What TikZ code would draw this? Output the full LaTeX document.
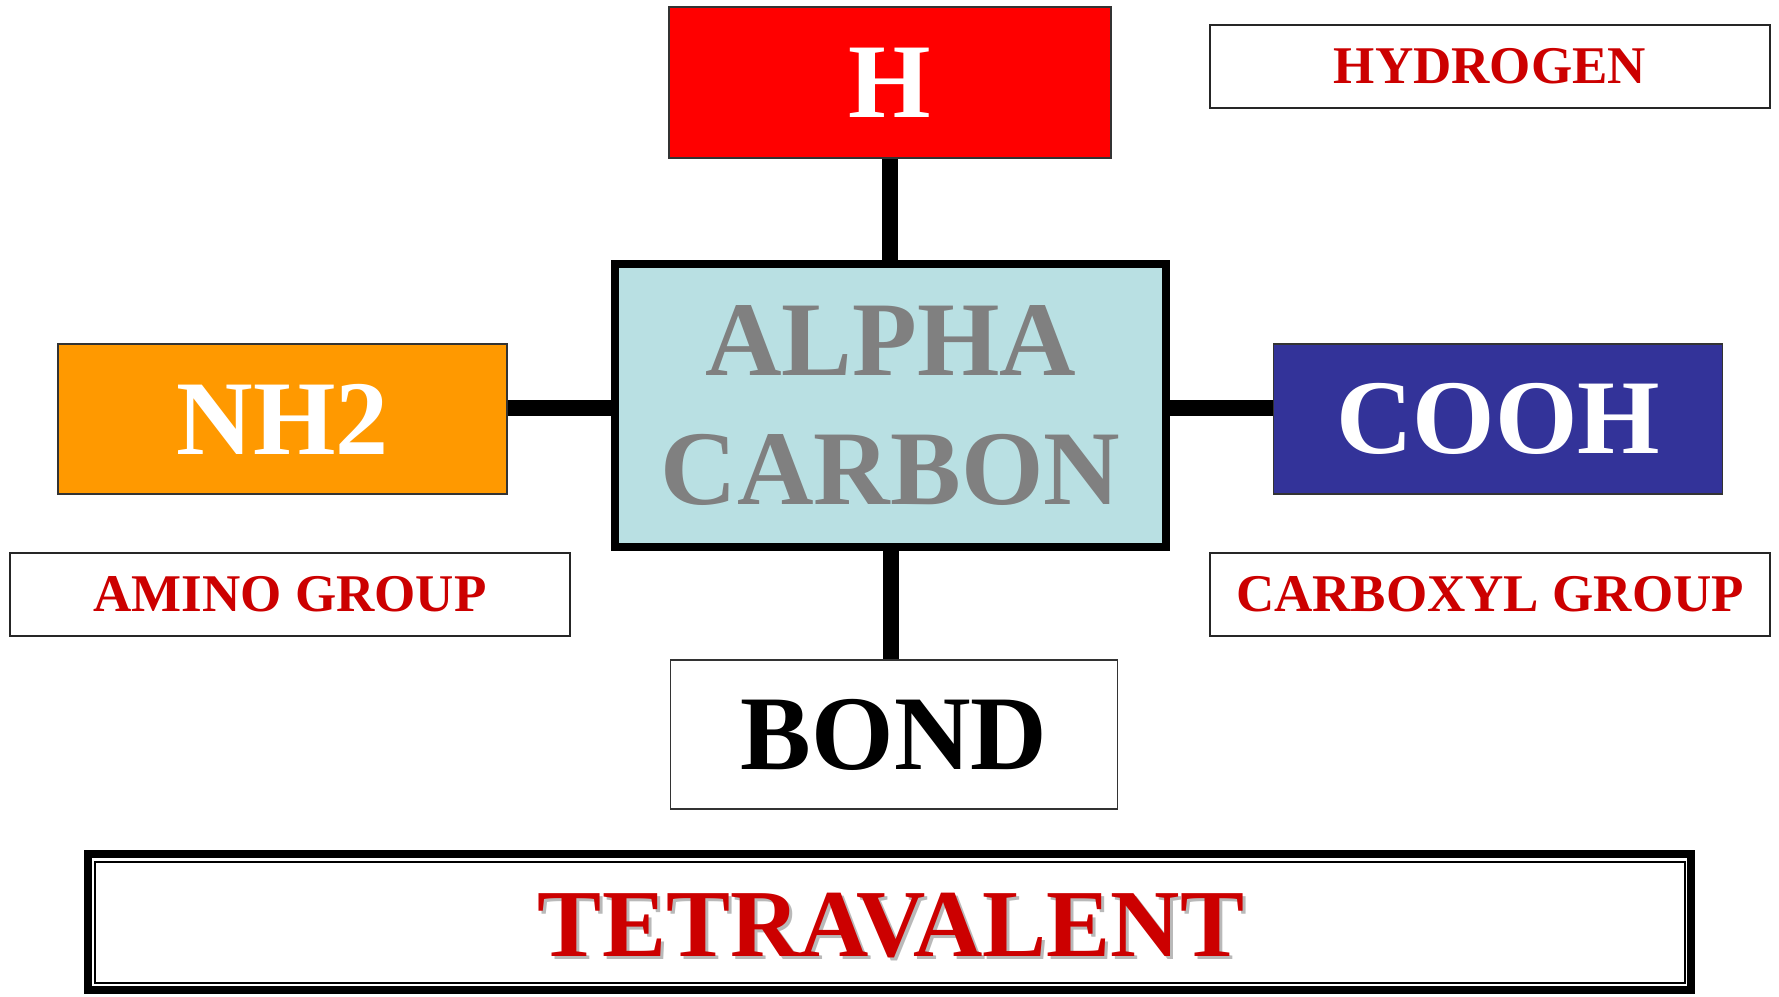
\documentclass[tikz,border=0pt]{standalone}
\usepackage{fontspec}
\setmainfont{Liberation Serif}
\usetikzlibrary{positioning}
\definecolor{vermelho}{HTML}{FF0000}
\definecolor{laranja}{HTML}{FF9900}
\definecolor{anil}{HTML}{333399}
\definecolor{azulclaro}{HTML}{B9E0E3}
\definecolor{cinza}{HTML}{808080}
\definecolor{textored}{HTML}{CC0000}

\begin{document}
\begin{tikzpicture}[x=1pt, y=-1pt]
            % Estilos
            \tikzstyle{grupo}=[rectangle, draw=black!80, line width=1.5pt, inner sep=0pt, minimum width=449pt, minimum height=150pt, text=white, font=\fontsize{106}{110}\selectfont\bfseries]
            \tikzstyle{rotulo}=[rectangle, draw=black!85, line width=2pt, inner sep=0pt, minimum width=560pt, minimum height=83pt, text=textored, font=\fontsize{53}{60}\selectfont\bfseries]
            \tikzstyle{ligacao}=[line width=16pt]

            \useasboundingbox (0,0) rectangle (1779,996);

            % Nós
            \node[grupo, fill=vermelho, minimum width=442pt, minimum height=151pt] (h) at (890,82.5) {H};
            \node[rectangle, draw, line width=8pt, fill=azulclaro, inner sep=0pt, minimum width=551pt, minimum height=283pt, align=center, text=cinza, font=\fontsize{106}{129}\selectfont\bfseries] (alfa) at (890.5,405.5) {ALPHA\\CARBON};
            \node[grupo, fill=laranja] (nh2) at (282.5,419) {NH2};
            \node[grupo, fill=anil] (cooh) at (1498,419) {COOH};
            \node[grupo, fill=white, text=black, minimum width=447pt, minimum height=149pt] (bond) at (894,734.5) {BOND};
            \node[rotulo] (hydrogen) at (1490,66) {HYDROGEN};
            \node[rotulo] (amino) at (290,594) {AMINO GROUP};
            \node[rotulo] (carboxyl) at (1490,594) {CARBOXYL GROUP};

            % Quadro de baixo
            \node[rectangle, draw, line width=7.5pt, outer sep=0pt, minimum width=1603pt, minimum height=136pt] (tetra) at (889.5,922) {};
            \draw[line width=2pt] ([shift={(6.5,7.5)}]tetra.north west) rectangle ([shift={(-6.5,-7.5)}]tetra.south east);
            \node[text=gray!55, font=\fontsize{96}{100}\selectfont\bfseries] (sombra) at (894,929) {TETRAVALENT};
            \node[text=textored, font=\fontsize{96}{100}\selectfont\bfseries] (tetratexto) at (891,926) {TETRAVALENT};

            % Ligações
            \draw[ligacao] (h.south) -- (h.south |- alfa.north);
            \draw[ligacao] ([yshift=-2.5pt]alfa.west) -- ([yshift=-2.5pt]alfa.west -| nh2.east);
            \draw[ligacao] ([yshift=-2.5pt]alfa.east) -- ([yshift=-2.5pt]alfa.east -| cooh.west);
            \draw[ligacao] (alfa.south) -- (alfa.south |- bond.north);
        \end{tikzpicture}
\end{document}
